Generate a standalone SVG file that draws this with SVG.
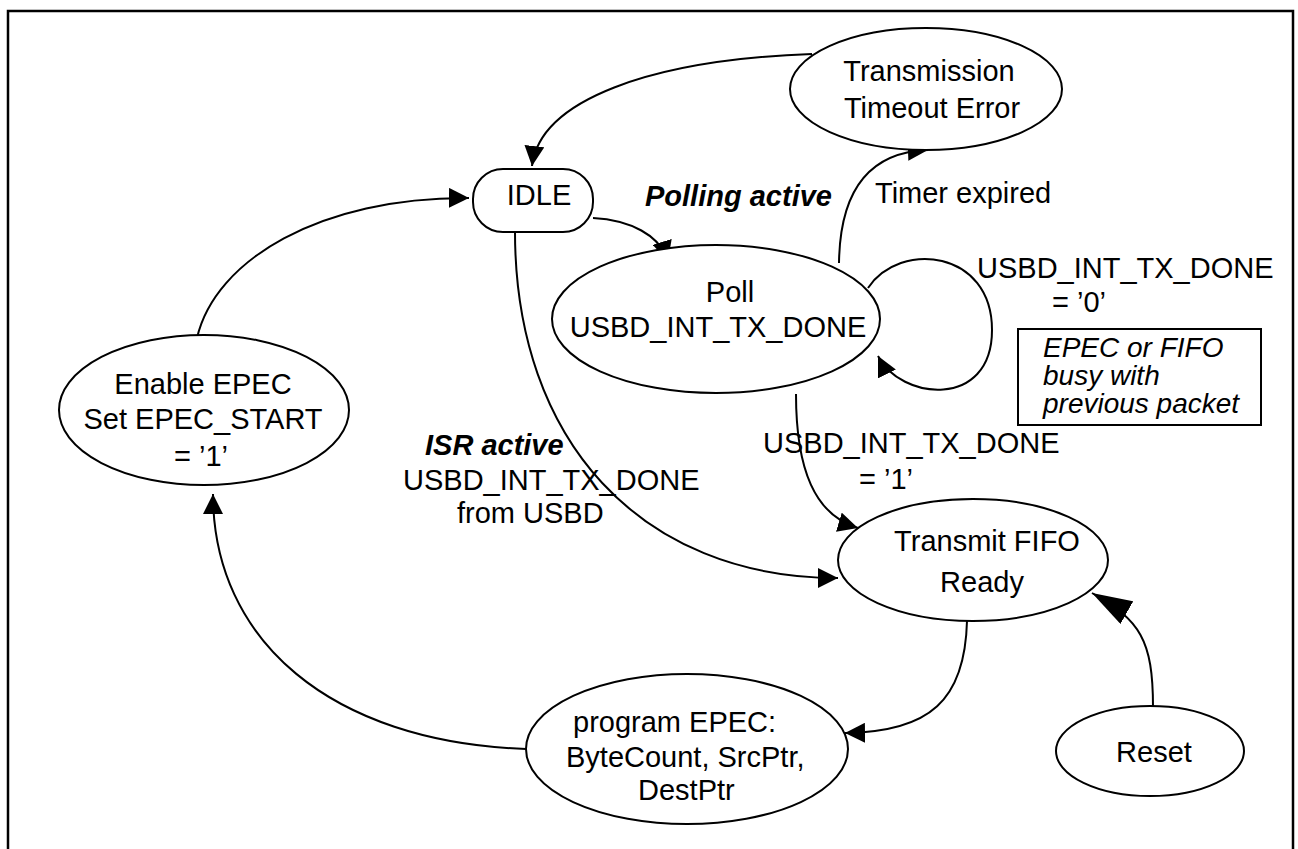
<svg xmlns="http://www.w3.org/2000/svg" width="1298" height="849" viewBox="0 0 1298 849">
<defs>
<style>
.n{fill:#fff;stroke:#000;stroke-width:2}
.t{font-family:"Liberation Sans",Arial,sans-serif;font-size:29px;fill:#000}
.m{text-anchor:middle}
.bi{font-weight:bold;font-style:italic}
.it{font-style:italic;font-size:28px}
.c{fill:none;stroke:#000;stroke-width:2}
</style>
<marker id="ah" markerUnits="userSpaceOnUse" viewBox="0 0 20 20" markerWidth="20" markerHeight="20" refX="20" refY="10" orient="auto"><path d="M0,0 L20,10 L0,20 z" fill="#000"/></marker>
<marker id="ahb" markerUnits="userSpaceOnUse" viewBox="0 0 40 26" markerWidth="40" markerHeight="26" refX="40" refY="13" orient="auto"><path d="M0,0 L40,13 L0,26 z" fill="#000"/></marker>
</defs>
<rect x="0" y="0" width="1298" height="849" fill="#fff"/>
<rect x="8" y="11" width="1285" height="860" fill="none" stroke="#000" stroke-width="2.5"/>
<g id="connectors">
<path class="c" d="M812,54 C650,60 540,100 532,166" marker-end="url(#ah)"/>
<path class="c" d="M197,338 C215,260 320,197 469,198" marker-end="url(#ah)"/>
<path class="c" d="M593,218 C630,220 660,235 668,261" marker-end="url(#ah)"/>
<path class="c" d="M839,263 C840,190 870,152 928,150" marker-end="url(#ah)"/>
<path class="c" d="M868,288 C900,240 992,250 992,330 C992,410 900,400 878,356" marker-end="url(#ah)"/>
<path class="c" d="M796,394 C796,470 815,515 858,528" marker-end="url(#ah)"/>
<path class="c" d="M515,232 C515,440 640,578 838,578" marker-end="url(#ah)"/>
<path class="c" d="M967,621 C965,700 930,732 845,733" marker-end="url(#ah)"/>
<path class="c" d="M1153,707 C1153,640 1140,620 1092,593" marker-end="url(#ahb)"/>
<path class="c" d="M526,749 C330,742 213,640 213,494" marker-end="url(#ah)"/>
</g>
<g id="timeout">
<ellipse class="n" cx="926" cy="89" rx="136" ry="61"/>
<text class="t m" x="929" y="81">Transmission</text>
<text class="t m" x="932" y="118">Timeout Error</text>
</g>
<g id="idle">
<rect class="n" x="473" y="169" width="120" height="63" rx="30" ry="30"/>
<text class="t m" x="539" y="205">IDLE</text>
</g>
<g id="poll">
<ellipse class="n" cx="716" cy="319" rx="164" ry="74"/>
<text class="t m" x="730" y="302">Poll</text>
<text class="t m" x="718" y="337">USBD_INT_TX_DONE</text>
</g>
<g id="fifo">
<ellipse class="n" cx="973" cy="560" rx="135" ry="61"/>
<text class="t m" x="987" y="551">Transmit FIFO</text>
<text class="t m" x="982" y="592">Ready</text>
</g>
<g id="enable">
<ellipse class="n" cx="204" cy="410" rx="145" ry="75"/>
<text class="t m" x="203" y="394">Enable EPEC</text>
<text class="t m" x="203" y="429">Set EPEC_START</text>
<text class="t m" x="201" y="466">= ’1’</text>
</g>
<g id="program">
<ellipse class="n" cx="687" cy="749" rx="161" ry="75"/>
<text class="t" x="573" y="732">program EPEC:</text>
<text class="t" x="566" y="767">ByteCount, SrcPtr,</text>
<text class="t" x="638" y="800">DestPtr</text>
</g>
<g id="reset">
<ellipse class="n" cx="1150" cy="751" rx="94" ry="45"/>
<text class="t m" x="1154" y="762">Reset</text>
</g>
<g id="note">
<rect x="1018" y="329" width="243" height="96" fill="#fff" stroke="#000" stroke-width="2"/>
<text class="t it" x="1043" y="357">EPEC or FIFO</text>
<text class="t it" x="1043" y="385">busy with</text>
<text class="t it" x="1043" y="413">previous packet</text>
</g>
<g id="labels">
<text class="t bi" x="645" y="206">Polling active</text>
<text class="t" x="875" y="203">Timer expired</text>
<text class="t" x="977" y="278">USBD_INT_TX_DONE</text>
<text class="t" x="1052" y="312">= ’0’</text>
<text class="t" x="763" y="453">USBD_INT_TX_DONE</text>
<text class="t" x="859" y="489">= ’1’</text>
<text class="t bi" x="425" y="455">ISR active</text>
<text class="t" x="403" y="490">USBD_INT_TX_DONE</text>
<text class="t" x="457" y="523">from USBD</text>
</g>
</svg>
